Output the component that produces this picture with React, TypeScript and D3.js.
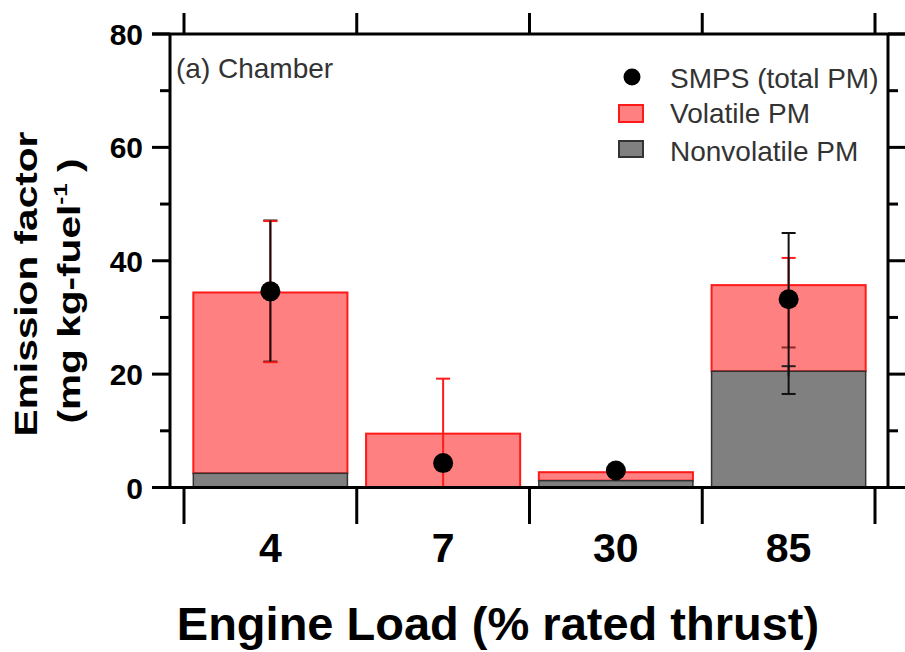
import React, { useEffect } from "react";
import * as d3 from "d3";

// Engine load categories (% rated thrust)
const categories = ["4", "7", "30", "85"];
// Stacked PM components (mg per kg fuel)
const nonvolatile = [2.5, 0.0, 1.2, 20.5];
const volatilePM = [31.9, 9.5, 1.5, 15.2];
// Volatile PM uncertainty range (low/high), drawn around the stack top
const volatileLow = [22.1, -0.2, 2.4, 24.7];
const volatileHigh = [47.0, 19.2, 3.0, 40.5];
// Nonvolatile PM uncertainty range
const nonvolatileLow = [2.2, 0.0, 1.0, 19.6];
const nonvolatileHigh = [2.8, 0.0, 1.4, 21.4];
// SMPS total PM with its low/high range
const smps = [34.6, 4.3, 3.0, 33.2];
const smpsLow = [22.2, 4.3, 2.6, 16.5];
const smpsHigh = [47.1, 4.3, 3.4, 44.9];

const yMajor = [0, 20, 40, 60, 80];
const yMinor = [10, 30, 50, 70];

const W = 905;
const H = 652;
const FONT = "'Liberation Sans', Arial, Helvetica, sans-serif";

export default function App() {
  useEffect(() => {
    document.body.style.margin = "0";
  }, []);

  const left = 170;
  const right = 888;
  const top = 34;
  const bottom = 487.5;

  const y = d3.scaleLinear().domain([0, 80]).range([bottom, top]);
  const x = d3
    .scaleBand<string>()
    .domain(categories)
    .range([184, 875])
    .paddingInner(0.108)
    .paddingOuter(0.054);

  const step = x.step();
  const gap = step * 0.108;
  const boundaries = categories
    .map((c) => (x(c) as number) - gap / 2)
    .concat([(x(categories[categories.length - 1]) as number) + x.bandwidth() + gap / 2]);

  const bw = x.bandwidth();
  const cx = (c: string) => (x(c) as number) + bw / 2;

  const red = "#ff8080";
  const redStroke = "#ff1a1a";
  const grey = "#808080";
  const greyStroke = "#333333";

  const capW = 7;

  return (
    <svg width={W} height={H} style={{ display: "block", background: "#fff" }}>
      {/* bars */}
      {categories.map((c, i) => {
        const nv = nonvolatile[i];
        const tot = nv + volatilePM[i];
        return (
          <g key={"bar" + c}>
            <rect
              x={x(c)}
              y={y(tot)}
              width={bw}
              height={y(nv) - y(tot)}
              fill={red}
              stroke={redStroke}
              strokeWidth={2}
            />
            {nv > 0 && (
              <rect
                x={x(c)}
                y={y(nv)}
                width={bw}
                height={y(0) - y(nv)}
                fill={grey}
                stroke={greyStroke}
                strokeWidth={1.5}
              />
            )}
          </g>
        );
      })}

      {/* error bars */}
      {categories.map((c, i) => {
        const px = cx(c);
        const vHi = volatileHigh[i];
        const vLo = volatileLow[i];
        const nHi = nonvolatileHigh[i];
        const nLo = nonvolatileLow[i];
        const hasSmps = smpsHigh[i] - smpsLow[i] > 1;
        const hasVol = vHi - vLo > 1;
        const hasNon = nHi - nLo > 1;
        return (
          <g key={"err" + c}>
            {hasSmps && (
              <g stroke="#111" strokeWidth={2}>
                <line x1={px - capW} x2={px + capW} y1={y(smpsHigh[i])} y2={y(smpsHigh[i])} />
                <line x1={px - capW} x2={px + capW} y1={y(smpsLow[i])} y2={y(smpsLow[i])} />
              </g>
            )}
            {hasNon && (
              <g stroke="#222" strokeWidth={2}>
                <line x1={px} x2={px} y1={y(nHi)} y2={y(nLo)} />
                <line x1={px - capW} x2={px + capW} y1={y(nHi)} y2={y(nHi)} />
              </g>
            )}
            {hasVol && (
              <g stroke={redStroke} strokeWidth={2}>
                <line x1={px} x2={px} y1={y(vHi)} y2={y(Math.max(vLo, 0))} />
                <line x1={px - capW} x2={px + capW} y1={y(vHi)} y2={y(vHi)} />
                {vLo > 0 && (
                  <line
                    x1={px - capW}
                    x2={px + capW}
                    y1={y(vLo)}
                    y2={y(vLo)}
                    stroke={i === 3 ? "#8a2a2a" : redStroke}
                  />
                )}
              </g>
            )}
            {hasSmps && (
              <line x1={px} x2={px} y1={y(smpsHigh[i])} y2={y(smpsLow[i])} stroke="#111" strokeWidth={2} />
            )}
            <circle cx={px} cy={y(smps[i])} r={10} fill="#000" />
          </g>
        );
      })}

      {/* frame */}
      <g stroke="#000" strokeWidth={3} fill="none">
        <line x1={152} x2={905} y1={top} y2={top} />
        <line x1={152} x2={905} y1={bottom} y2={bottom} />
        <line x1={left} x2={left} y1={top} y2={bottom} />
        <line x1={right} x2={right} y1={top} y2={bottom} />
        {yMajor.map((v) => (
          <g key={"ym" + v}>
            <line x1={152} x2={left} y1={y(v)} y2={y(v)} />
            <line x1={right} x2={905} y1={y(v)} y2={y(v)} />
          </g>
        ))}
        {yMinor.map((v) => (
          <g key={"yn" + v}>
            <line x1={160} x2={left} y1={y(v)} y2={y(v)} />
            <line x1={right} x2={898} y1={y(v)} y2={y(v)} />
          </g>
        ))}
        {boundaries.map((b, k) => (
          <g key={"xb" + k}>
            <line x1={b} x2={b} y1={bottom} y2={524} />
            <line x1={b} x2={b} y1={13} y2={top} />
          </g>
        ))}
      </g>

      {/* y tick labels */}
      {yMajor.map((v) => (
        <text
          key={"yl" + v}
          x={143}
          y={y(v) + 11}
          textAnchor="end"
          fontFamily={FONT}
          fontWeight="bold"
          fontSize={30}
          fill="#000"
        >
          {v}
        </text>
      ))}

      {/* x tick labels */}
      {categories.map((c) => (
        <text
          key={"xl" + c}
          x={cx(c)}
          y={562}
          textAnchor="middle"
          fontFamily={FONT}
          fontWeight="bold"
          fontSize={41}
          fill="#000"
        >
          {c}
        </text>
      ))}

      {/* axis titles */}
      <text
        x={498}
        y={640}
        textAnchor="middle"
        fontFamily={FONT}
        fontWeight="bold"
        fontSize={47}
        fill="#000"
      >
        Engine Load (% rated thrust)
      </text>
      <g transform="translate(37,284) rotate(-90) scale(1.27,1)">
        <text textAnchor="middle" fontFamily={FONT} fontWeight="bold" fontSize={32} fill="#000">
          Emission factor
        </text>
      </g>
      <g transform="translate(80,291) rotate(-90) scale(1.27,1)">
        <text textAnchor="middle" fontFamily={FONT} fontWeight="bold" fontSize={32} fill="#000">
          (mg kg-fuel
          <tspan dy={-13} fontSize={19}>-1</tspan>
          <tspan dy={13}> )</tspan>
        </text>
      </g>

      {/* panel label */}
      <text x={176} y={78} fontFamily={FONT} fontSize={28} fill="#333">
        (a) Chamber
      </text>

      {/* legend */}
      <g fontFamily={FONT} fontSize={28} fill="#333">
        <circle cx={632} cy={77} r={8.5} fill="#000" />
        <text x={670} y={88}>SMPS (total PM)</text>
        <rect x={619} y={105} width={24} height={17} fill={red} stroke={redStroke} strokeWidth={2} />
        <text x={670} y={123}>Volatile PM</text>
        <rect x={619} y={141} width={24} height={16} fill={grey} stroke={greyStroke} strokeWidth={2} />
        <text x={670} y={161}>Nonvolatile PM</text>
      </g>
    </svg>
  );
}
